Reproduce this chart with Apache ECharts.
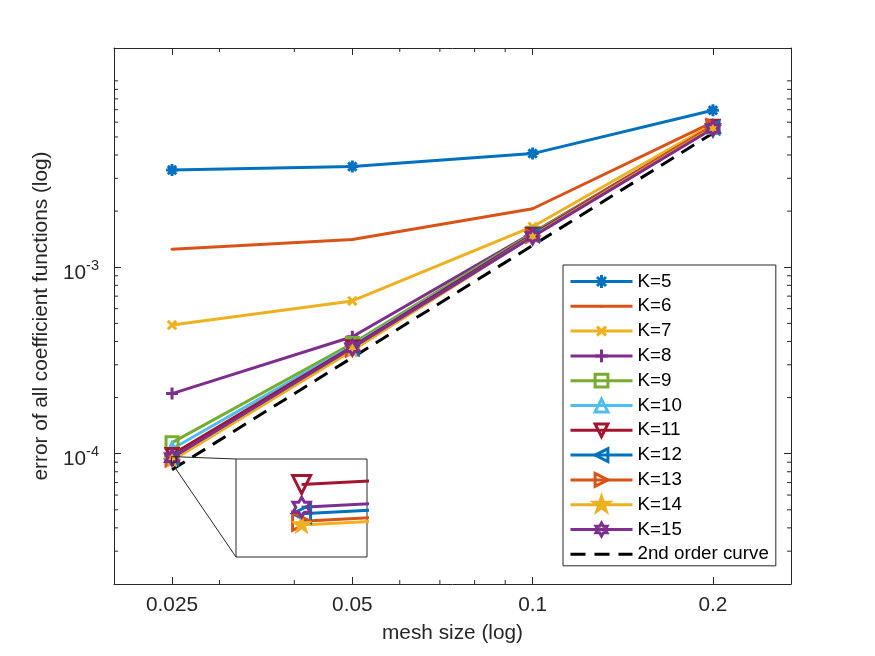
<!DOCTYPE html>
<html>
<head>
<meta charset="utf-8">
<script src="https://cdn.jsdelivr.net/npm/echarts@6/dist/echarts.min.js"></script>
<style>
  html, body { margin: 0; padding: 0; background: #fff; }
  #chart { width: 875px; height: 656px; }
</style>
</head>
<body>
<div id="chart"></div>
<script>
// mesh size (x) and error of each K (y)
const meshSize = [0.025, 0.05, 0.1, 0.2]
const errK5 = [3.32e-3, 3.47e-3, 4.07e-3, 6.95e-3]
const errK6 = [1.25e-3, 1.41e-3, 2.06e-3, 6.0e-3]
const errK7 = [4.9e-4, 6.6e-4, 1.65e-3, 5.85e-3]
const errK8 = [2.1e-4, 4.24e-4, 1.53e-3, 5.7e-3]
const errK9 = [1.146e-4, 3.9e-4, 1.52e-3, 5.65e-3]
const errK10 = [1.06e-4, 3.8e-4, 1.5e-3, 5.65e-3]
const errK11 = [9.9e-5, 3.75e-4, 1.5e-3, 5.7e-3]
const errK12 = [9.39e-5, 3.65e-4, 1.48e-3, 5.6e-3]
const errK13 = [9.26e-5, 3.6e-4, 1.47e-3, 5.75e-3]
const errK14 = [9.2e-5, 3.58e-4, 1.47e-3, 5.6e-3]
const errK15 = [9.5e-5, 3.7e-4, 1.46e-3, 5.55e-3]
const order2 = [8.2e-5, 3.28e-4, 1.31e-3, 5.24e-3]

const seriesNames = ['K=5', 'K=6', 'K=7', 'K=8', 'K=9', 'K=10', 'K=11', 'K=12', 'K=13', 'K=14', 'K=15', '2nd order curve']

// ticks
const xTicks = [0.025, 0.05, 0.1, 0.2]
const xMinorTicks = [0.03, 0.04, 0.06, 0.07, 0.08, 0.09]
const yTicks = [1e-4, 1e-3]
const yMinorTicks = [3e-5, 4e-5, 5e-5, 6e-5, 7e-5, 8e-5, 9e-5,
  2e-4, 3e-4, 4e-4, 5e-4, 6e-4, 7e-4, 8e-4, 9e-4,
  2e-3, 3e-3, 4e-3, 5e-3, 6e-3, 7e-3, 8e-3, 9e-3, 1e-2]

// axis ranges
const xRange = [0.02, 0.27]
const yRange = [2e-5, 1.5e-2]
const insetX = [0.02492, 0.02508]
const insetY = [8.68e-5, 1.037e-4]
const zoomBoxX = [0.02494, 0.0254]
const zoomBoxY = [8.98e-5, 9.63e-5]

const errData = [errK5, errK6, errK7, errK8, errK9, errK10, errK11, errK12, errK13, errK14, errK15]
const colors = ['#0072BD', '#D95319', '#EDB120', '#7E2F8E', '#77AC30', '#4DBEEE', '#A2142F',
  '#0072BD', '#D95319', '#EDB120', '#7E2F8E']
const axisColor = '#262626'
const font = 'Liberation Sans, Arial, Helvetica, sans-serif'

// star shaped marker paths
const starPath = (points, inner) => {
  let d = 'M-1,-1M1,1'
  for (let i = 0; i < points * 2; i++) {
    const r = i % 2 ? inner : 1
    const a = -Math.PI / 2 + i * Math.PI / points
    d += (i ? 'L' : 'M') + (r * Math.cos(a)).toFixed(3) + ',' + (r * Math.sin(a)).toFixed(3)
  }
  return 'path://' + d + 'Z'
}

const markers = [
  'path://M0,-1L0,1M-1,0L1,0M-0.7,-0.7L0.7,0.7M-0.7,0.7L0.7,-0.7', // *
  'path://M-4,-4M4,4M-1,0L-0.7,-0.7L0,-1L0.7,-0.7L1,0L0.7,0.7L0,1L-0.7,0.7Z', // .
  'path://M-1,-1M1,1M-0.7,-0.7L0.7,0.7M-0.7,0.7L0.7,-0.7', // x
  'path://M0,-1L0,1M-1,0L1,0', // +
  'path://M-0.85,-0.85L0.85,-0.85L0.85,0.85L-0.85,0.85Z', // square
  'path://M0,-1L1,1L-1,1Z', // ^
  'path://M-1,-1L1,-1L0,1Z', // v
  'path://M-1,0L1,-1L1,1Z', // <
  'path://M1,0L-1,-1L-1,1Z', // >
  starPath(5, 0.382), // pentagram
  starPath(6, 0.577) // hexagram
]
const markerSize = [12, 12, 12, 12, 12, 12, 12, 12, 12, 16, 15]
const insetMarkerSize = [18, 18, 18, 18, 18, 18, 18, 18, 18, 21, 20]
const filled = [false, true, false, false, false, false, false, false, false, true, false]
const borderW = (i) => i === 1 ? 0 : (filled[i] ? 1 : 3)
const legendBorderW = (i) => i === 9 ? 4 : borderW(i)

const markerStyle = (i) => filled[i]
  ? { color: colors[i], borderColor: colors[i], borderWidth: borderW(i) }
  : { color: 'rgba(0,0,0,0)', borderColor: colors[i], borderWidth: borderW(i) }

const lineSeries = (i, idx) => ({
  name: seriesNames[i],
  type: 'line',
  xAxisIndex: idx,
  yAxisIndex: idx,
  data: meshSize.map((x, j) => [x, errData[i][j]]),
  symbol: markers[i],
  symbolSize: idx ? insetMarkerSize[i] : markerSize[i],
  lineStyle: { color: colors[i], width: 3 },
  itemStyle: markerStyle(i),
  z: idx ? 6 : 3
})

const mainSeries = errData.map((vals, i) => lineSeries(i, 0))
const insetSeries = errData.slice(6).map((vals, k) => lineSeries(k + 6, 2))

const orderSeries = {
  name: '2nd order curve',
  type: 'line',
  xAxisIndex: 0,
  yAxisIndex: 0,
  data: meshSize.map((x, j) => [x, order2[j]]),
  symbol: 'none',
  lineStyle: { color: '#000', width: 3, type: [15, 9] },
  itemStyle: { color: 'rgba(0,0,0,0)' },
  z: 3
}

// minor ticks drawn on the main axes
const minorTickSeries = (ticks, isY) => ({
  type: 'custom',
  xAxisIndex: 0,
  yAxisIndex: 0,
  silent: true,
  clip: false,
  z: 1,
  data: ticks.map(v => isY ? [xRange[0], v] : [v, yRange[0]]),
  renderItem: (params, api) => {
    const p = api.coord([api.value(0), api.value(1)])
    const cs = params.coordSys
    const st = { stroke: axisColor, lineWidth: 1 }
    const len = 4
    if (isY) {
      return {
        type: 'group',
        children: [
          { type: 'line', shape: { x1: cs.x, y1: p[1], x2: cs.x + len, y2: p[1] }, style: st },
          { type: 'line', shape: { x1: cs.x + cs.width - len, y1: p[1], x2: cs.x + cs.width, y2: p[1] }, style: st }
        ]
      }
    }
    return {
      type: 'group',
      children: [
        { type: 'line', shape: { x1: p[0], y1: cs.y + cs.height, x2: p[0], y2: cs.y + cs.height - len }, style: st },
        { type: 'line', shape: { x1: p[0], y1: cs.y, x2: p[0], y2: cs.y + len }, style: st }
      ]
    }
  }
})

const baseAxis = {
  type: 'log',
  logBase: 10,
  axisLine: { show: true, lineStyle: { color: axisColor, width: 1 } },
  splitLine: { show: false },
  minorTick: { show: false }
}

const majorTick = (values) => ({ show: true, inside: true, length: 7, customValues: values, lineStyle: { color: axisColor } })

const chart = echarts.init(document.getElementById('chart'))
chart.setOption({
  animation: false,
  backgroundColor: '#fff',
  textStyle: { fontFamily: font },
  grid: [
    { left: 114, top: 48, width: 677, height: 536 },
    { left: 236, top: 459, width: 131, height: 98, show: true, borderColor: axisColor, borderWidth: 1, backgroundColor: '#fff', z: 5 }
  ],
  xAxis: [
    Object.assign({}, baseAxis, {
      gridIndex: 0,
      position: 'bottom',
      min: xRange[0],
      max: xRange[1],
      axisTick: majorTick(xTicks),
      axisLabel: {
        customValues: xTicks,
        margin: 11,
        fontSize: 20.8,
        color: axisColor,
        formatter: v => String(+v.toPrecision(3))
      },
      name: 'mesh size (log)',
      nameLocation: 'middle',
      nameGap: 39,
      nameTextStyle: { fontSize: 20.8, color: axisColor }
    }),
    Object.assign({}, baseAxis, {
      gridIndex: 0,
      position: 'top',
      min: xRange[0],
      max: xRange[1],
      axisTick: majorTick(xTicks),
      axisLabel: { show: false }
    }),
    Object.assign({}, baseAxis, {
      gridIndex: 1,
      show: false,
      min: insetX[0],
      max: insetX[1]
    })
  ],
  yAxis: [
    Object.assign({}, baseAxis, {
      gridIndex: 0,
      position: 'left',
      min: yRange[0],
      max: yRange[1],
      axisTick: majorTick(yTicks),
      axisLabel: {
        customValues: yTicks,
        margin: 15,
        color: axisColor,
        formatter: v => '{b|10}{s|' + Math.round(Math.log10(v)) + '}',
        rich: {
          b: { fontSize: 20.8, color: axisColor, padding: [11, 0, 0, 0] },
          s: { fontSize: 14.5, color: axisColor, verticalAlign: 'top', padding: [7, 0, 0, 0] }
        }
      },
      name: 'error of all coefficient functions (log)',
      nameLocation: 'middle',
      nameGap: 53,
      nameTextStyle: { fontSize: 20.8, color: axisColor }
    }),
    Object.assign({}, baseAxis, {
      gridIndex: 0,
      position: 'right',
      min: yRange[0],
      max: yRange[1],
      axisTick: majorTick(yTicks),
      axisLabel: { show: false }
    }),
    Object.assign({}, baseAxis, {
      gridIndex: 1,
      show: false,
      min: insetY[0],
      max: insetY[1]
    })
  ],
  legend: {
    data: seriesNames.map((name, i) => i < 11
      ? { name: name, itemStyle: { borderWidth: legendBorderW(i) } }
      : { name: name }),
    orient: 'vertical',
    left: 563,
    top: 265,
    padding: [7, 7, 2, 6],
    itemWidth: 62,
    itemHeight: 16,
    itemGap: 5.8,
    borderColor: axisColor,
    borderWidth: 1,
    backgroundColor: '#fff',
    selectedMode: false,
    lineStyle: { width: 3 },
    textStyle: { fontSize: 18.75, color: '#000', fontFamily: font }
  },
  series: [
    minorTickSeries(yMinorTicks, true),
    minorTickSeries(xMinorTicks, false)
  ].concat(mainSeries, [orderSeries], insetSeries)
})

// zoom box on the main axes and its connectors to the inset
const boxTL = chart.convertToPixel({ xAxisIndex: 0, yAxisIndex: 0 }, [zoomBoxX[0], zoomBoxY[1]])
const boxBR = chart.convertToPixel({ xAxisIndex: 0, yAxisIndex: 0 }, [zoomBoxX[1], zoomBoxY[0]])
const insetTL = chart.convertToPixel({ xAxisIndex: 2, yAxisIndex: 2 }, [insetX[0], insetY[1]])
const insetBL = chart.convertToPixel({ xAxisIndex: 2, yAxisIndex: 2 }, [insetX[0], insetY[0]])
const thin = { stroke: axisColor, lineWidth: 1, fill: null }
chart.setOption({
  graphic: [
    { type: 'rect', shape: { x: boxTL[0], y: boxTL[1], width: boxBR[0] - boxTL[0], height: boxBR[1] - boxTL[1] }, style: thin, z: 4, silent: true },
    { type: 'line', shape: { x1: boxBR[0], y1: boxTL[1], x2: insetTL[0], y2: insetTL[1] }, style: thin, z: 4, silent: true },
    { type: 'line', shape: { x1: boxTL[0], y1: boxBR[1], x2: insetBL[0], y2: insetBL[1] }, style: thin, z: 4, silent: true }
  ]
})
</script>
</body>
</html>
